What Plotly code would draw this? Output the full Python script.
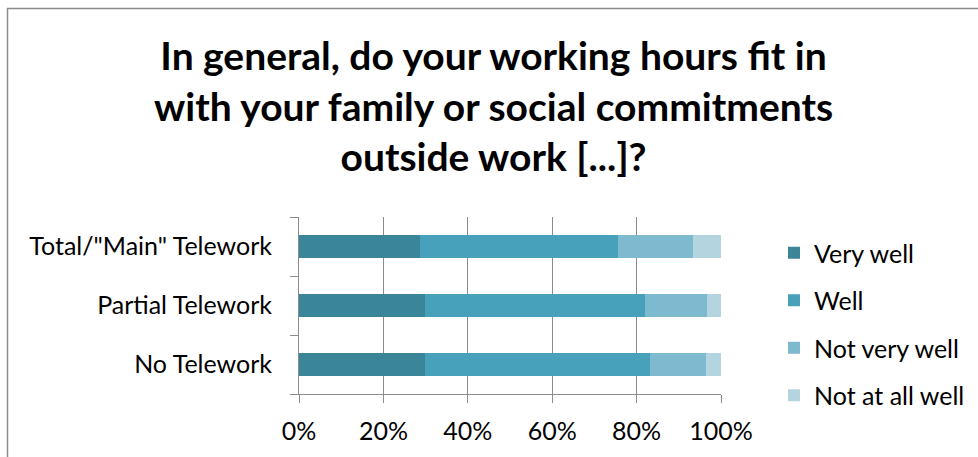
import plotly.graph_objects as go

categories = ['No Telework', 'Partial Telework', 'Total/"Main" Telework']
series_names = ["Very well", "Well", "Not very well", "Not at all well"]
very_well = [29.8, 29.9, 28.7]
well = [53.3, 52.0, 47.0]
not_very_well = [13.3, 14.8, 17.6]
not_at_all_well = [3.6, 3.3, 6.7]
colors = ["#3A8598", "#48A1BA", "#7DB9CF", "#B4D4E0"]
tick_vals = [0, 20, 40, 60, 80, 100]
tick_text = ["0%", "20%", "40%", "60%", "80%", "100%"]
title_text = ("In general, do your working hours fit in<br>"
              "with your family or social commitments<br>"
              "outside work [...]?")

W, H = 978, 457
ML, MR, MT, MB = 299, 257, 217, 63

fig = go.Figure()
for name, vals, col in zip(series_names,
                           [very_well, well, not_very_well, not_at_all_well],
                           colors):
    fig.add_trace(go.Bar(
        y=categories, x=vals, name=name, orientation="h",
        marker=dict(color=col, line=dict(width=0)),
        legendgroup=name,
        hoverinfo="x+y+name",
    ))

pw = W - ML - MR
ph = H - MT - MB
def px_x(p):
    return (p - ML) / pw
def px_y(p):
    return 1 + (MT - p) / ph

fig.update_layout(
    width=W, height=H,
    margin=dict(l=ML, r=MR, t=MT, b=MB, pad=0, autoexpand=False),
    barmode="stack",
    bargap=0.61,
    paper_bgcolor="white",
    plot_bgcolor="white",
    font=dict(family="Lato", size=25, color="#000000"),
    showlegend=True,
    legend=dict(x=px_x(774), y=px_y(230), xanchor="left", yanchor="top",
                traceorder="grouped", tracegroupgap=12, maxheight=400,
                font=dict(family="Lato", size=25, color="#000000"),
                bgcolor="rgba(0,0,0,0)", itemwidth=30),
    xaxis=dict(range=[0, 100], tickvals=tick_vals, ticktext=tick_text,
               showgrid=True, gridcolor="#8C8C8C", gridwidth=1,
               showline=True, linecolor="#8C8C8C", linewidth=1,
               ticks="outside", ticklen=8, tickcolor="#8C8C8C",
               zeroline=False, fixedrange=True, ticklabelstandoff=7,
               tickfont=dict(family="Lato", size=25, color="#000000")),
    yaxis=dict(categoryorder="array", categoryarray=categories,
               showline=True, linecolor="#8C8C8C", linewidth=1,
               ticks="outside", ticklen=8, tickcolor="#8C8C8C",
               tickson="boundaries", showgrid=False, fixedrange=True,
               ticklabelstandoff=21,
               tickfont=dict(family="Lato", size=25, color="#000000")),
    annotations=[
        dict(text=title_text, xref="paper", yref="paper",
             x=px_x(493), y=px_y(30), xanchor="center", yanchor="top",
             showarrow=False, align="center",
             font=dict(family="Lato", size=39, color="#000000", weight="bold")),
    ],
    shapes=[
        dict(type="line", xref="paper", yref="paper",
             x0=px_x(7), x1=px_x(W + 5), y0=px_y(8.5), y1=px_y(8.5),
             line=dict(color="#8C8C8C", width=1.5)),
        dict(type="line", xref="paper", yref="paper",
             x0=px_x(7.5), x1=px_x(7.5), y0=px_y(8), y1=px_y(H + 5),
             line=dict(color="#8C8C8C", width=1.5)),
    ],
)

fig.write_html("out.html")
